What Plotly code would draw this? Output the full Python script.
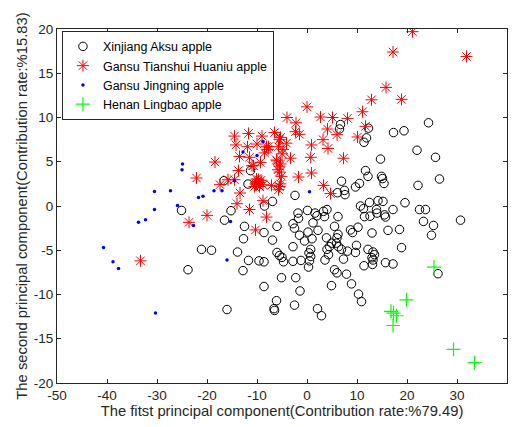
import plotly.graph_objects as go

# Xinjiang Aksu apple (black open circles)
aksu_x = [24.3, 17.3, 19.4, 6.7, 6.5, 12.3, 11.9, 11.4, 22.0, 25.7, 14.7, 11.7, 12.2, 14.9, 15.1, 15.4,
          26.5, 22.2, 6.9, 10.5, 9.7, 7.5, 7.6, 6.1, -2.4, -6.9, -8.5, -11.3, -16.6, -11.8,
          12.5, 14.2, 15.2, 19.6,
          -25.1, -15.2, -16.5, -12.5, -12.7, -8.6, -21.1, -19.1, -13.9, -23.8, -11.7, -12.8, -9.6, -8.6,
          -8.6, -16.0, -6.0, -6.9, -6.0, -5.5, -4.7, -5.0, -5.1, -6.1, -6.6, -6.5,
          -2.8, -2.5, -1.8, -1.7, -1.5, -2.8, -2.8, -1.2, -2.25, -1.4, -2.5,
          0.1, 1.2, 1.6, 2.0, 3.3, 4.0, 3.5, 0.2, -0.5, 1.0, 2.2, 5.5, 6.2,
          0.74, 0.4, 0.74, 0.5, 0.3, 3.6, 4.3, 4.0, 4.5, 3.9, 6.0, 6.2,
          4.9, 5.9, 6.3, 6.9, 7.3, 8.1, 8.7, 9.1, 10.2, 9.7, 9.9,
          5.5, 6.0, 7.9, 4.9, 8.9, 10.3, 10.9, 2.1, 2.9,
          13.0, 12.2, 13.2, 13.5, 13.0, 13.2, 11.4, 13.1,
          10.7, 11.3, 11.5, 12.6, 13.9, 14.0, 15.5, 15.7, 16.2, 17.2, 18.5, 18.9,
          15.7, 17.2, 22.5, 23.7, 23.3, 25.3, 24.9, 30.7, 26.2]
aksu_y = [9.4, 8.3, 8.5, 9.2, 8.7, 8.8, 7.7, 7.2, 6.3, 5.5, 5.3, 4.0, 3.35, 3.35, 3.1, 2.55,
          3.05, 2.33, 2.8, 2.55, 2.15, 1.76, 1.28, 1.5, 1.2, 0.52, 0.0, 4.0, 2.86, 2.48,
          0.4, 0.6, 0.52, 0.37,
          -0.5, -0.53, -1.6, -2.3, -3.7, -3.0, -4.9, -5.0, -5.2, -7.2, -6.15, -7.3, -6.2, -6.3,
          -9.1, -11.7, -2.3, -3.85, -5.25, -5.6, -6.3, -5.8, -8.1, -10.7, -11.6, -11.8,
          -2.0, -2.5, -0.8, -1.4, -3.3, -4.6, -6.25, -6.15, -8.1, -9.6, -11.2,
          -0.5, -1.9, -0.8, -1.1, -0.6, -0.4, -1.2, -2.95, -3.95, -3.7, -2.75, -2.3, -1.2,
          -4.9, -5.3, -5.7, -6.2, -6.9, -6.1, -5.5, -4.9, -4.6, -3.6, -3.6, -3.2,
          -4.2, -4.2, -4.6, -4.9, -6.0, -5.1, -2.7, -3.0, -2.4, -5.25, -4.45,
          -7.2, -7.55, -7.7, -9.0, -8.8, -9.95, -10.8, -11.6, -12.4,
          -3.05, -4.9, -5.2, -5.5, -5.85, -6.1, -6.75, -6.6,
          0.0, -0.3, -1.2, -1.15, -0.4, -0.8, -1.0, -1.25, -2.75, -0.4, -2.65, -4.7,
          -6.4, -6.55, -0.4, -0.4, -1.74, -2.2, -3.3, -1.6, -7.65]

# Gansu Tianshui Huaniu apple (red asterisks)
huaniu_x = [21.1, 17.2, 31.9, 15.8, 12.9, 18.9, 11.1, 0.0, 11.7, -4.0, 2.7, 5.1, 8.1, -2.2, 4.1, -6.5,
            -2.3, -1.5, 10.1, 6.0, -9.0, -5.3, 0.9, 3.2, 4.2, -4.1, -5.7, -7.7, -10.0, -8.5, -5.0,
            -3.3, 0.74, 7.3, -6.0, -9.3, -5.3, -10.7, -5.5, 0.9, -1.7, -9.7, -10.0, -7.1, -5.3, -5.7,
            3.3, 4.7, -8.8, -14.5, -11.7, -14.2, -11.9, -8.1, -13.5, -11.5, -11.0, -18.4, -13.7,
            -22.1, -17.4, -15.8, -14.5, -10.1, -9.6, -10.1, -8.8, -13.4, -14.0, -11.5, -7.8, -5.5,
            -6.1, -5.8, -9.5, -10.5, -4.8, -5.5, -5.1, -5.5, -23.6, -20.0, -8.1, -10.3, -33.3,
            -9.8, -10.3, -9.2]
huaniu_y = [19.7, 17.4, 16.9, 13.4, 12.0, 12.05, 10.65, 11.2, 9.0, 10.0, 10.05, 10.0, 9.9, 9.4, 8.7, 8.3,
            8.4, 8.1, 7.8, 8.06, 7.9, 7.75, 6.9, 7.5, 6.5, 7.1, 6.7, 6.7, 7.0, 6.0, 5.9,
            5.4, 5.5, 5.4, 5.1, 4.93, 4.75, 4.55, 3.84, 3.73, 3.28, 2.97, 2.6, 2.33, 2.5, 1.84,
            2.33, 1.4, 0.6, 7.9, 8.2, 6.9, 6.7, 6.7, 5.6, 5.5, 4.55, 4.97, 4.0,
            3.16, 2.41, 2.97, 2.97, 3.05, 2.67, 2.4, 2.4, 1.47, 0.26, -0.4, 6.4, 7.5,
            5.2, 4.1, 2.2, 2.2, 6.4, 4.5, 3.35, 2.2, -1.85, -1.06, -1.25, -2.7, -6.2,
            2.8, 2.5, 2.9]

# Gansu Jingning apple (blue dots)
jingning_x = [-40.7, -38.8, -37.7, -33.7, -32.3, -30.5, -30.5, -27.3, -25.9, -22.7, -21.7, -20.8,
              -18.6, -17.0, -15.3, -16.0, -30.3, -24.9, -25.0, -14.5, -12.8, -10.0, -8.8, 0.5]
jingning_y = [-4.7, -6.3, -7.05, -1.85, -1.55, -0.4, 1.65, 1.73, 0.07, -2.2, 0.97, 1.1,
              1.73, 1.73, -1.75, -6.1, -12.1, 4.75, 4.1, 2.86, 6.1, 5.7, 7.3, 1.6]

# Henan Lingbao apple (green crosses)
lingbao_x = [25.4, 19.9, 16.8, 17.3, 17.9, 17.2, 29.3, 33.5]
lingbao_y = [-6.9, -10.6, -11.9, -12.1, -12.4, -13.5, -16.2, -17.7]

names = ["Xinjiang Aksu apple", "Gansu Tianshui Huaniu apple", "Gansu Jingning apple", "Henan Lingbao apple"]

x_ticks = [-50, -40, -30, -20, -10, 0, 10, 20, 30, 40]
y_ticks = [-20, -15, -10, -5, 0, 5, 10, 15, 20]

FONT = "Liberation Sans, Arial, Helvetica, sans-serif"

fig = go.Figure()
fig.add_trace(go.Scatter(x=aksu_x, y=aksu_y, mode="markers", name=names[0],
                         marker=dict(symbol="circle-open", size=8.5, color="black",
                                     line=dict(color="black", width=1))))
fig.add_trace(go.Scatter(x=huaniu_x, y=huaniu_y, mode="markers", name=names[1],
                         marker=dict(symbol="asterisk-open", size=10, color="red",
                                     line=dict(color="red", width=1))))
fig.add_trace(go.Scatter(x=jingning_x, y=jingning_y, mode="markers", name=names[2],
                         marker=dict(symbol="circle", size=3.5, color="blue",
                                     line=dict(width=0))))
fig.add_trace(go.Scatter(x=lingbao_x, y=lingbao_y, mode="markers", name=names[3],
                         marker=dict(symbol="cross-thin-open", size=10, color="#00ff00",
                                     line=dict(color="#00ff00", width=1.2))))

axis_common = dict(showgrid=False, zeroline=False, showline=True, linecolor="#262626", linewidth=1,
                   mirror="ticks", ticks="inside", ticklen=4, tickcolor="#262626",
                   tickfont=dict(family=FONT, size=13.5, color="#262626"),
                   tickmode="array", automargin=False)

fig.update_xaxes(range=[-50, 40], tickvals=x_ticks, ticktext=[str(v) for v in x_ticks],
                 title=dict(text="The fitst principal component(Contribution rate:%79.49)",
                            font=dict(family=FONT, size=14.8, color="#262626"),
                            standoff=2),
                 **axis_common)
fig.update_yaxes(range=[-20, 20], tickvals=y_ticks, ticktext=[str(v) for v in y_ticks],
                 title=dict(text="The second principal component(Contribution rate:%15.83)",
                            font=dict(family=FONT, size=14.8, color="#262626"),
                            standoff=2),
                 **axis_common)

fig.update_layout(
    width=514, height=427,
    margin=dict(l=57, r=7, t=29, b=44),
    plot_bgcolor="white", paper_bgcolor="white",
    showlegend=True,
    legend=dict(x=0.011, y=0.995, xanchor="left", yanchor="top",
                bgcolor="white", bordercolor="#262626", borderwidth=1,
                font=dict(family=FONT, size=12.5, color="black"),
                tracegroupgap=0, itemsizing="trace"),
)

fig.write_html("out.html")
